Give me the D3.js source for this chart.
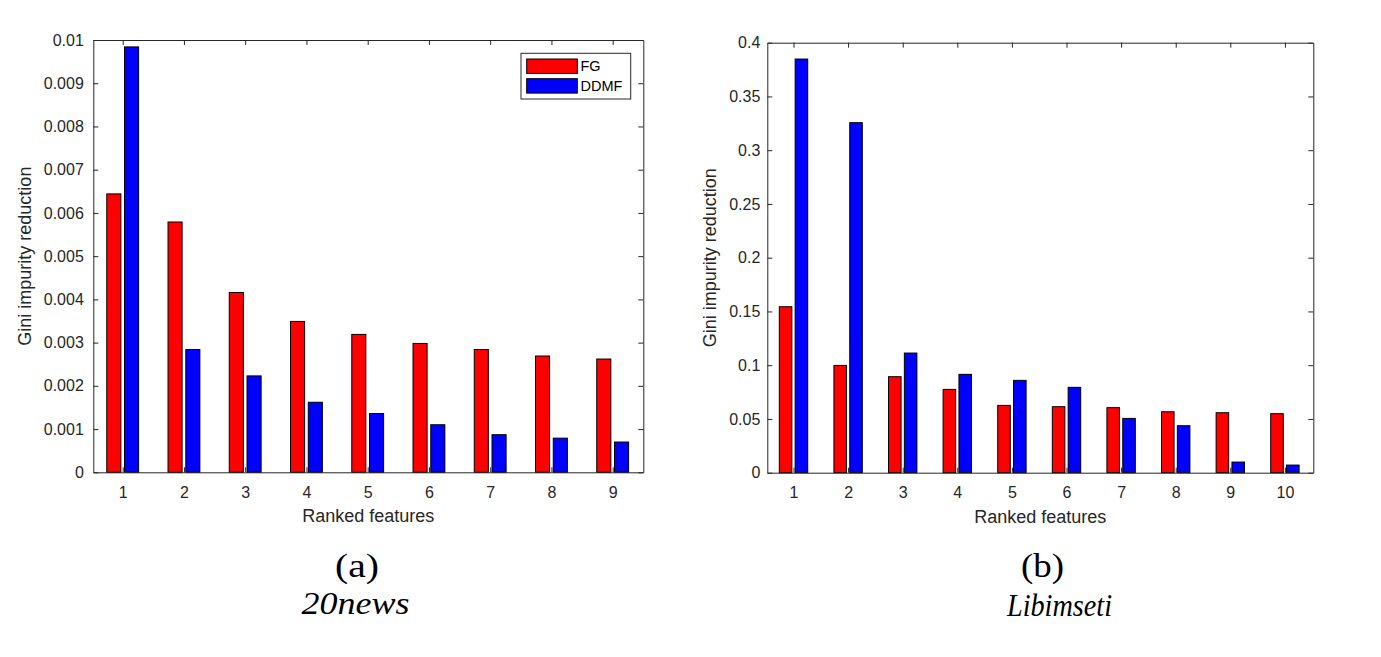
<!DOCTYPE html>
<html>
<head>
<meta charset="utf-8">
<script src="https://cdn.jsdelivr.net/npm/d3@7/dist/d3.min.js"></script>
<style>
  html, body { margin: 0; padding: 0; background: #fff; }
  svg { display: block; }
</style>
</head>
<body>
<svg id="chart" width="1381" height="657"></svg>
<script>
// ---------------- DATA ----------------
const seriesNames = ["FG", "DDMF"];
const seriesColors = ["#ff0000", "#0000ff"];

// (a) 20news
const catsA = [1, 2, 3, 4, 5, 6, 7, 8, 9];
const fgA   = [0.00644, 0.00579, 0.00416, 0.00349, 0.00319, 0.00298, 0.00284, 0.00269, 0.00262];
const ddmfA = [0.00984, 0.00284, 0.00223, 0.00162, 0.00136, 0.00110, 0.00087, 0.00079, 0.00070];
const yTicksA = [0, 0.001, 0.002, 0.003, 0.004, 0.005, 0.006, 0.007, 0.008, 0.009, 0.01];
const yTickLabelsA = ["0", "0.001", "0.002", "0.003", "0.004", "0.005", "0.006", "0.007", "0.008", "0.009", "0.01"];

// (b) Libimseti
const catsB = [1, 2, 3, 4, 5, 6, 7, 8, 9, 10];
const fgB   = [0.1544, 0.0998, 0.0893, 0.0775, 0.0626, 0.0614, 0.0605, 0.0567, 0.0558, 0.0549];
const ddmfB = [0.3848, 0.3256, 0.1113, 0.0915, 0.0859, 0.0794, 0.0505, 0.0437, 0.0099, 0.0071];
const yTicksB = [0, 0.05, 0.1, 0.15, 0.2, 0.25, 0.3, 0.35, 0.4];
const yTickLabelsB = ["0", "0.05", "0.1", "0.15", "0.2", "0.25", "0.3", "0.35", "0.4"];

const xLabel = "Ranked features";
const yLabel = "Gini impurity reduction";
const captionsTop = ["(a)", "(b)"];
const captionsBottom = ["20news", "Libimseti"];

// ---------------- DRAWING ----------------
const svg = d3.select("#chart");
const axisColor = "#262626";
const tickFont = "'Liberation Sans', Arial, Helvetica, sans-serif";
const serif = "'Liberation Serif', 'Times New Roman', serif";

function panel(cfg) {
  const { left, right, top, bottom, xDomain, yDomain, cats, fg, ddmf, yTicks, yTickLabels, labelPad, yLabelX } = cfg;
  const g = svg.append("g");
  const x = d3.scaleLinear().domain(xDomain).range([left, right]);
  const y = d3.scaleLinear().domain(yDomain).range([bottom, top]);

  const offset = 0.145, bw = 0.23;
  const w = x(bw) - x(0);
  const series = [fg, ddmf];

  series.forEach((vals, si) => {
    g.append("g").selectAll("rect").data(cats).join("rect")
      .attr("x", (c) => x(c + (si === 0 ? -offset : offset)) - w / 2)
      .attr("y", (c, i) => y(vals[i]))
      .attr("width", w)
      .attr("height", (c, i) => y(0) - y(vals[i]))
      .attr("fill", seriesColors[si])
      .attr("stroke", "#000")
      .attr("stroke-width", 1);
  });

  const styleAxis = (sel) => {
    sel.selectAll(".domain").attr("stroke", axisColor).attr("stroke-width", 1);
    sel.selectAll(".tick line").attr("stroke", axisColor);
    sel.selectAll("text").attr("fill", axisColor).attr("font-family", tickFont).attr("font-size", "16px");
  };
  g.append("g").attr("transform", `translate(0,${bottom})`)
    .call(d3.axisBottom(x).tickValues(cats).tickFormat(d3.format("d")).tickSizeInner(-5).tickSizeOuter(0).tickPadding(10))
    .call(styleAxis)
    .call((s) => s.selectAll("text").attr("dy", "0.97em"));
  g.append("g").attr("transform", `translate(0,${top})`)
    .call(d3.axisTop(x).tickValues(cats).tickFormat("").tickSizeInner(-5).tickSizeOuter(0))
    .call(styleAxis);
  g.append("g").attr("transform", `translate(${left},0)`)
    .call(d3.axisLeft(y).tickValues(yTicks).tickFormat((d, i) => yTickLabels[i]).tickSizeInner(-5).tickSizeOuter(0).tickPadding(labelPad))
    .call(styleAxis);
  g.append("g").attr("transform", `translate(${right},0)`)
    .call(d3.axisRight(y).tickValues(yTicks).tickFormat("").tickSizeInner(-5).tickSizeOuter(0))
    .call(styleAxis);

  g.append("text")
    .attr("x", (left + right) / 2).attr("y", bottom + 50)
    .attr("text-anchor", "middle")
    .attr("font-family", tickFont).attr("font-size", "18px").attr("fill", axisColor)
    .text(xLabel);
  g.append("text")
    .attr("transform", `translate(${yLabelX},${(top + bottom) / 2}) rotate(-90)`)
    .attr("text-anchor", "middle")
    .attr("font-family", tickFont).attr("font-size", "18px").attr("fill", axisColor)
    .text(yLabel);

  return { g, x, y };
}

panel({
  left: 93.3, right: 643.3, top: 40, bottom: 472.3,
  xDomain: [0.52, 9.5], yDomain: [0, 0.01],
  cats: catsA, fg: fgA, ddmf: ddmfA, yTicks: yTicksA, yTickLabels: yTickLabelsA,
  labelPad: 9.5, yLabelX: 31
});
panel({
  left: 767.3, right: 1313.3, top: 42.7, bottom: 472.7,
  xDomain: [0.52, 10.52], yDomain: [0, 0.4],
  cats: catsB, fg: fgB, ddmf: ddmfB, yTicks: yTicksB, yTickLabels: yTickLabelsB,
  labelPad: 7, yLabelX: 716
});

// legend (panel a)
const lg = svg.append("g");
lg.append("rect").attr("x", 521).attr("y", 53.3).attr("width", 109.7).attr("height", 45.7)
  .attr("fill", "#fff").attr("stroke", axisColor).attr("stroke-width", 1);
seriesNames.forEach((name, i) => {
  const yy = 59 + i * 19.7;
  lg.append("rect").attr("x", 526.7).attr("y", yy).attr("width", 50.6).attr("height", 14.4)
    .attr("fill", seriesColors[i]).attr("stroke", "#000").attr("stroke-width", 1);
  lg.append("text").attr("x", 580.5).attr("y", yy + 7.2).attr("dy", "0.36em")
    .attr("font-family", tickFont).attr("font-size", "14.5px").attr("fill", "#000")
    .text(name);
});

// captions
const capTopX = [357, 1042.5];
const capTopW = [44, 43];
const capBotX = [355.5, 1059.5];
const capBotY = [613.5, 616];
const capBotW = [108, 105];
captionsTop.forEach((t, i) => {
  svg.append("text").attr("x", capTopX[i] - capTopW[i] / 2).attr("y", 576.7)
    .attr("textLength", capTopW[i]).attr("lengthAdjust", "spacingAndGlyphs")
    .attr("font-family", serif).attr("font-size", "34px").attr("fill", "#000").text(t);
});
captionsBottom.forEach((t, i) => {
  svg.append("text").attr("x", capBotX[i] - capBotW[i] / 2).attr("y", capBotY[i])
    .attr("textLength", capBotW[i]).attr("lengthAdjust", "spacingAndGlyphs")
    .attr("font-family", serif).attr("font-style", "italic").attr("font-size", "31px").attr("fill", "#000").text(t);
});
</script>
</body>
</html>
